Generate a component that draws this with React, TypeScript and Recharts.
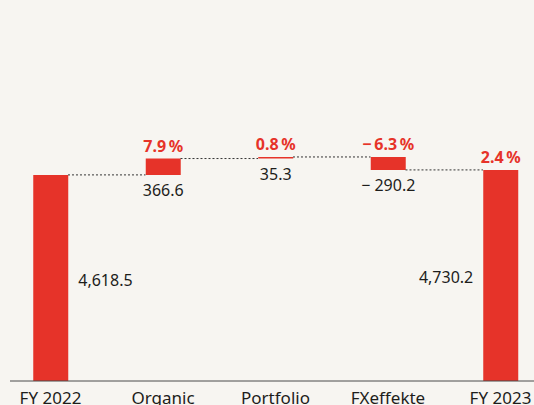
import React from "react";
import { BarChart, Bar, XAxis, YAxis, ReferenceLine, LabelList } from "recharts";

const categories = ["FY 2022", "Organic", "Portfolio", "FXeffekte", "FY 2023"];
const changes = [4618.5, 366.6, 35.3, -290.2, 4730.2];
const isTotal = [true, false, false, false, true];
const valueLabels = ["4,618.5", "366.6", "35.3", "\u2212 290.2", "4,730.2"];
const percentLabels = ["", "7.9\u2009%", "0.8\u2009%", "\u2212\u20096.3\u2009%", "2.4\u2009%"];

const RED = "#e63329";
const BG = "#f7f5f1";
const FONT = "'Noto Sans', sans-serif";
const BAR_SIZE = 35;
const STEP_PX = 112.5;

type Row = { idx: number; name: string; base: number; amount: number; end: number };

const rows: Row[] = (() => {
  let running = 0;
  return categories.map((name, i) => {
    if (isTotal[i]) {
      running = changes[i];
      return { idx: i, name, base: 0, amount: changes[i], end: running };
    }
    const start = running;
    const end = running + changes[i];
    running = end;
    return { idx: i, name, base: Math.min(start, end), amount: Math.abs(changes[i]), end };
  });
})();

const half = BAR_SIZE / 2 / STEP_PX;

const renderLabels = (props: any) => {
  const { x, y, width, height, index } = props;
  const i = index as number;
  const items: React.ReactNode[] = [];
  const h = Math.abs(height);
  const top = Math.min(y, y + height);
  if (isTotal[i]) {
    const first = i === 0;
    items.push(
      <text
        key="v"
        x={first ? x + width + 10 : x - 10}
        y={top + h / 2 + 8}
        textAnchor={first ? "start" : "end"}
        fontSize={16}
        fontFamily={FONT}
        fill="#1d1d1b"
      >
        {valueLabels[i]}
      </text>
    );
  } else {
    items.push(
      <text
        key="v"
        x={x + width / 2}
        y={top + h + 21}
        textAnchor="middle"
        fontSize={16}
        fontFamily={FONT}
        fill="#1d1d1b"
      >
        {valueLabels[i]}
      </text>
    );
  }
  if (percentLabels[i]) {
    items.push(
      <text
        key="p"
        x={x + width / 2}
        y={top - 7}
        textAnchor="middle"
        fontSize={16}
        fontWeight={700}
        fontFamily={FONT}
        fill={RED}
      >
        {percentLabels[i]}
      </text>
    );
  }
  return <g>{items}</g>;
};

const Tick = (props: any) => {
  const { x, y, payload } = props;
  return (
    <text x={x} y={y + 23} textAnchor="middle" fontSize={17} fontFamily={FONT} fill="#1d1d1b">
      {categories[payload.value]}
    </text>
  );
};

export default function App() {
  return (
    <div
      style={{
        position: "absolute",
        left: 0,
        top: 0,
        width: 534,
        height: 405,
        background: BG,
        overflow: "hidden",
      }}
    >
      <BarChart
        width={534}
        height={405}
        data={rows}
        margin={{ top: 24, right: 0, bottom: 0, left: 10 }}
      >
        <XAxis
          type="number"
          dataKey="idx"
          domain={[-0.36, 4.2978]}
          ticks={[0, 1, 2, 3, 4]}
          allowDataOverflow
          interval={0}
          tickLine={false}
          tickSize={0}
          tickMargin={0}
          height={24}
          axisLine={{ stroke: "#4a4a4a", strokeWidth: 1 }}
          tick={<Tick />}
        />
        <YAxis hide domain={[0, 8000]} />
        {rows.slice(0, -1).map((r, i) => (
          <ReferenceLine
            key={i}
            segment={[
              { x: i + half, y: r.end },
              { x: i + 1 - half, y: r.end },
            ]}
            stroke="#333"
            strokeWidth={1}
            strokeDasharray="2 2"
            ifOverflow="visible"
          />
        ))}
        <Bar dataKey="base" stackId="w" fill="transparent" barSize={BAR_SIZE} isAnimationActive={false} />
        <Bar dataKey="amount" stackId="w" fill={RED} barSize={BAR_SIZE} isAnimationActive={false}>
          <LabelList dataKey="amount" content={renderLabels} />
        </Bar>
      </BarChart>
    </div>
  );
}
